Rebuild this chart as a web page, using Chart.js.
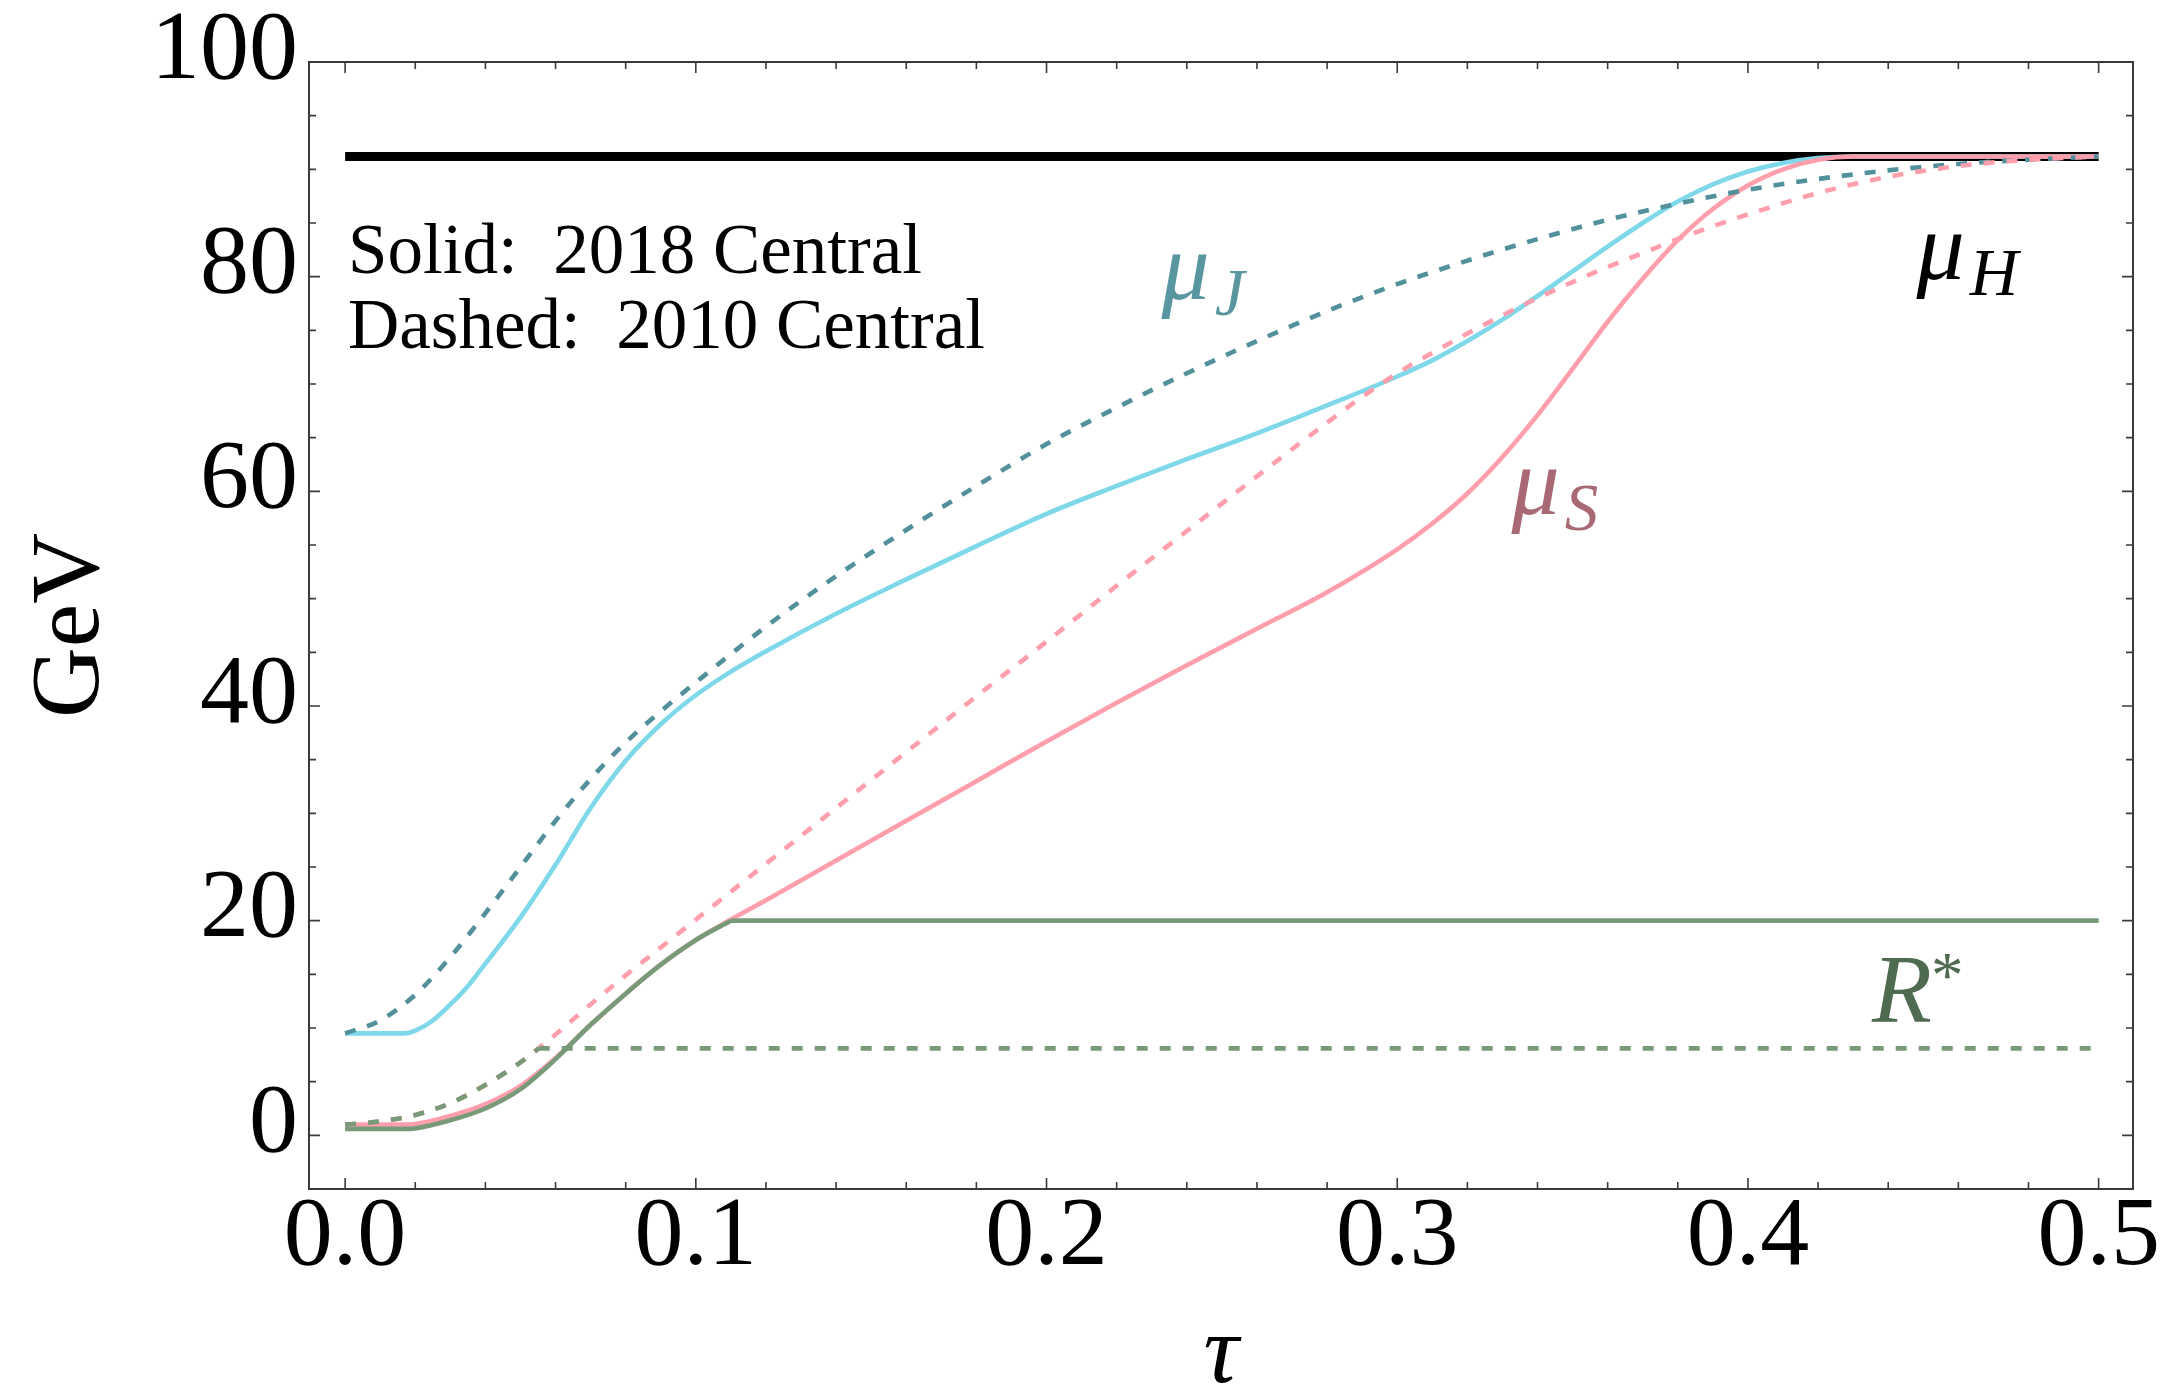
<!DOCTYPE html>
<html>
<head>
<meta charset="utf-8">
<title>Scale choices vs tau</title>
<style>
  html, body { margin: 0; padding: 0; background: #ffffff; }
  canvas { display: block; }
</style>
<script src="https://cdn.jsdelivr.net/npm/chart.js@4.4.1/dist/chart.umd.min.js"></script>
</head>
<body>
<canvas id="chart" width="2163" height="1392"></canvas>
<script>
// ---- profile values (GeV) against tau ----
const tauH  = [0, 0.5];
const muH   = [91.19, 91.19];

// mu_J, 2018 central (solid)
const tauJ18 = [0, 0.017, 0.02, 0.025, 0.03, 0.035, 0.04, 0.05, 0.06, 0.07, 0.08, 0.09, 0.1, 0.11, 0.12, 0.14, 0.16, 0.18, 0.2, 0.22, 0.24, 0.26, 0.28, 0.3, 0.31, 0.32, 0.33, 0.34, 0.35, 0.36, 0.37, 0.38, 0.39, 0.4, 0.41, 0.42, 0.43, 0.5];
const muJ18  = [9.5, 9.5, 9.75, 10.7, 12.2, 13.9, 16.0, 20.3, 25.2, 30.5, 34.9, 38.3, 41.0, 43.2, 45.1, 48.6, 51.8, 54.9, 57.9, 60.5, 63.0, 65.4, 68.0, 70.7, 72.2, 74.0, 76.0, 78.2, 80.5, 82.8, 85.0, 87.0, 88.6, 89.8, 90.6, 91.05, 91.19, 91.19];

// mu_J, 2010 central (dashed)
const tauJ10 = [0, 0.01, 0.02, 0.03, 0.04, 0.05, 0.06, 0.07, 0.08, 0.09, 0.1, 0.12, 0.14, 0.16, 0.18, 0.2, 0.22, 0.24, 0.26, 0.28, 0.3, 0.32, 0.34, 0.36, 0.38, 0.4, 0.42, 0.44, 0.46, 0.48, 0.5];
const muJ10  = [9.5, 10.7, 13.1, 16.6, 20.7, 25.0, 29.3, 33.2, 36.6, 39.5, 42.2, 47.4, 52.1, 56.4, 60.5, 64.4, 67.8, 71.0, 74.0, 76.8, 79.3, 81.5, 83.5, 85.3, 86.8, 88.1, 89.1, 89.9, 90.5, 90.9, 91.19];

// mu_S, 2018 central (solid)
const tauS18 = [0, 0.017, 0.02, 0.03, 0.04, 0.05, 0.06, 0.07, 0.08, 0.09, 0.1, 0.11, 0.12, 0.14, 0.16, 0.18, 0.2, 0.22, 0.24, 0.26, 0.28, 0.3, 0.31, 0.32, 0.33, 0.34, 0.35, 0.36, 0.37, 0.38, 0.39, 0.4, 0.41, 0.42, 0.43, 0.5];
const muS18  = [1.0, 1.0, 1.05, 1.8, 2.9, 4.6, 7.2, 10.3, 13.2, 15.9, 18.2, 20.1, 21.9, 25.6, 29.3, 33.0, 36.7, 40.3, 43.8, 47.2, 50.6, 54.6, 57.0, 59.8, 63.2, 67.1, 71.4, 75.8, 79.8, 83.4, 86.3, 88.5, 90.0, 90.9, 91.19, 91.19];

// mu_S, 2010 central (dashed)
const tauS10 = [0, 0.01, 0.02, 0.03, 0.04, 0.05, 0.06, 0.07, 0.08, 0.09, 0.1, 0.12, 0.14, 0.16, 0.18, 0.2, 0.22, 0.24, 0.26, 0.28, 0.29, 0.3, 0.31, 0.32, 0.33, 0.34, 0.35, 0.36, 0.37, 0.38, 0.39, 0.4, 0.42, 0.44, 0.46, 0.48, 0.5];
const muS10  = [1.0, 1.3, 1.9, 3.0, 4.7, 6.8, 9.4, 12.2, 14.9, 17.5, 20.1, 25.3, 30.5, 35.7, 40.9, 46.0, 51.2, 56.3, 61.4, 66.4, 68.8, 71.0, 72.9, 74.7, 76.4, 78.0, 79.5, 80.9, 82.2, 83.5, 84.7, 85.8, 87.8, 89.3, 90.3, 90.9, 91.19];

// R*, 2018 central (solid): rising branch, then frozen at 20 GeV
const tauR18rise = [0, 0.017, 0.02, 0.03, 0.04, 0.05, 0.06, 0.07, 0.08, 0.09, 0.1, 0.11];
const rStar18rise = [0.6, 0.6, 0.65, 1.4, 2.5, 4.3, 7.1, 10.3, 13.2, 15.9, 18.2, 20.0];
const tauR18flat = [0.11, 0.5];
const rStar18flat = [20.0, 20.0];

// R*, 2010 central (dashed): rising branch, then frozen at 8.1 GeV
const tauR10rise = [0, 0.01, 0.02, 0.03, 0.04, 0.05, 0.0552];
const rStar10rise = [1.0, 1.3, 1.9, 3.0, 4.7, 6.8, 8.1];
const tauR10flat = [0.0552, 0.5];
const rStar10flat = [8.1, 8.1];

// ---- axis ticks ----
const xTickValues = [0, 0.1, 0.2, 0.3, 0.4, 0.5];
const xTickLabels = ['0.0', '0.1', '0.2', '0.3', '0.4', '0.5'];
const xMinorTicks = [0.02, 0.04, 0.06, 0.08, 0.12, 0.14, 0.16, 0.18, 0.22, 0.24, 0.26, 0.28, 0.32, 0.34, 0.36, 0.38, 0.42, 0.44, 0.46, 0.48];
const yTickValues = [0, 20, 40, 60, 80, 100];
const yTickLabels = ['0', '20', '40', '60', '80', '100'];
const yMinorTicks = [5, 10, 15, 25, 30, 35, 45, 50, 55, 65, 70, 75, 85, 90, 95];

// ---- styling ----
const SERIF = '"Liberation Serif", "Times New Roman", serif';
const CYAN = '#7fd8ea';
const TEAL = '#52909c';
const PINK = '#ff9eac';
const GREEN = '#789a78';
const DASH = [11, 12];

const pts = (xs, ys) => xs.map((x, i) => ({ x: x, y: ys[i] }));

function line(label, xs, ys, color, width, dashed, order) {
  return {
    label: label,
    data: pts(xs, ys),
    borderColor: color,
    backgroundColor: color,
    borderWidth: width,
    borderDash: dashed ? DASH : [],
    borderCapStyle: 'butt',
    borderJoinStyle: 'round',
    pointRadius: 0,
    pointHoverRadius: 0,
    fill: false,
    cubicInterpolationMode: 'monotone',
    order: order
  };
}

const datasets = [
  line('mu_H', tauH, muH, '#000000', 9, false, 20),
  line('mu_J 2018', tauJ18, muJ18, CYAN, 4.6, false, 19),
  line('mu_S 2018', tauS18, muS18, PINK, 4.6, false, 18),
  line('R* 2018', tauR18rise, rStar18rise, GREEN, 4.6, false, 17),
  line('R* 2018 frozen', tauR18flat, rStar18flat, GREEN, 4.6, false, 16),
  line('mu_J 2010', tauJ10, muJ10, TEAL, 4.6, true, 15),
  line('mu_S 2010', tauS10, muS10, PINK, 4.6, true, 14),
  line('R* 2010', tauR10rise, rStar10rise, GREEN, 4.6, true, 13),
  line('R* 2010 frozen', tauR10flat, rStar10flat, GREEN, 4.6, true, 12)
];

// curve labels, anchored in data coordinates
const curveLabels = [
  { base: 'μ', sub: 'J', t: 0.2328, v: 77.95, color: '#5a96a0' },
  { base: 'μ', sub: 'S', t: 0.3326, v: 57.9,  color: '#a86874' },
  { base: 'μ', sub: 'H', t: 0.4481, v: 79.8,  color: '#000000' }
];
const rStarLabel = { base: 'R', sup: '*', t: 0.4354, v: 10.54, color: '#4e6b50' };
const noteLines = ['Solid:  2018 Central', 'Dashed:  2010 Central'];

// inward ticks on all four sides plus the frame
const frameTicks = {
  id: 'frameTicks',
  afterDatasetsDraw(chart) {
    const { ctx, chartArea, scales } = chart;
    const { left, right, top, bottom } = chartArea;
    const xs = scales.x, ys = scales.y;
    ctx.save();
    ctx.strokeStyle = '#3a3a3a';
    ctx.lineWidth = 1.6;
    ctx.beginPath();
    const seg = (a, b, c, d) => { ctx.moveTo(a, b); ctx.lineTo(c, d); };
    xTickValues.forEach(v => { const p = xs.getPixelForValue(v); seg(p, bottom, p, bottom - 11); seg(p, top, p, top + 11); });
    xMinorTicks.forEach(v => { const p = xs.getPixelForValue(v); seg(p, bottom, p, bottom - 7); seg(p, top, p, top + 7); });
    yTickValues.forEach(v => { const p = ys.getPixelForValue(v); seg(left, p, left + 11, p); seg(right, p, right - 11, p); });
    yMinorTicks.forEach(v => { const p = ys.getPixelForValue(v); seg(left, p, left + 7, p); seg(right, p, right - 7, p); });
    ctx.stroke();
    ctx.lineWidth = 2;
    ctx.strokeRect(left, top, right - left, bottom - top);
    ctx.restore();
  }
};

// text annotations inside the frame
const annotations = {
  id: 'annotations',
  afterDatasetsDraw(chart) {
    const { ctx, scales } = chart;
    const xs = scales.x, ys = scales.y;
    ctx.save();
    ctx.textAlign = 'left';
    ctx.textBaseline = 'alphabetic';

    // solid / dashed key
    ctx.fillStyle = '#000000';
    ctx.font = '71px ' + SERIF;
    ctx.fillText(noteLines[0], 348, 273);
    ctx.fillText(noteLines[1], 348, 348);

    // mu labels with subscripts
    curveLabels.forEach(l => {
      const x = xs.getPixelForValue(l.t);
      const y = ys.getPixelForValue(l.v);
      ctx.fillStyle = l.color;
      ctx.font = 'italic 96px ' + SERIF;
      ctx.fillText(l.base, x, y);
      const w = ctx.measureText(l.base).width;
      ctx.font = 'italic 67px ' + SERIF;
      ctx.fillText(l.sub, x + w + 5, y + 16);
    });

    // R* label with superscript
    {
      const l = rStarLabel;
      const x = xs.getPixelForValue(l.t);
      const y = ys.getPixelForValue(l.v);
      ctx.fillStyle = l.color;
      ctx.font = 'italic 98px ' + SERIF;
      ctx.fillText(l.base, x, y);
      const w = ctx.measureText(l.base).width;
      ctx.font = '65px ' + SERIF;
      ctx.fillText(l.sup, x + w - 1, y - 25);
    }
    ctx.restore();
  }
};

new Chart(document.getElementById('chart'), {
  type: 'line',
  data: { datasets: datasets },
  options: {
    responsive: false,
    animation: false,
    devicePixelRatio: 1,
    events: [],
    layout: { padding: { top: 62, right: 30, left: 0, bottom: 0 } },
    plugins: { legend: { display: false }, tooltip: { enabled: false } },
    scales: {
      x: {
        type: 'linear',
        min: -0.0103,
        max: 0.5098,
        afterBuildTicks: a => { a.ticks = xTickValues.map(v => ({ value: v })); },
        afterFit: a => { a.height = 203; },
        grid: { display: false, drawTicks: false },
        border: { display: false },
        ticks: {
          autoSkip: false, maxRotation: 0, minRotation: 0, padding: 0,
          color: '#000000',
          font: { family: SERIF, size: 98, lineHeight: 1 },
          callback: (v, i) => xTickLabels[i]
        },
        title: {
          display: true, text: 'τ', color: '#000000',
          font: { family: SERIF, size: 98, style: 'italic', lineHeight: 0.72 },
          padding: 0
        }
      },
      y: {
        type: 'linear',
        min: -5,
        max: 100,
        afterBuildTicks: a => { a.ticks = yTickValues.map(v => ({ value: v })); },
        afterFit: a => { a.width = 309; },
        grid: { display: false, drawTicks: false },
        border: { display: false },
        ticks: {
          autoSkip: false, padding: 11, labelOffset: -10,
          color: '#000000',
          font: { family: SERIF, size: 98, lineHeight: 1 },
          callback: (v, i) => yTickLabels[i]
        },
        title: {
          display: true, text: 'GeV', color: '#000000',
          font: { family: SERIF, size: 98, lineHeight: 1 },
          padding: { top: 23, bottom: 0 }
        }
      }
    }
  },
  plugins: [frameTicks, annotations]
});
</script>
</body>
</html>
